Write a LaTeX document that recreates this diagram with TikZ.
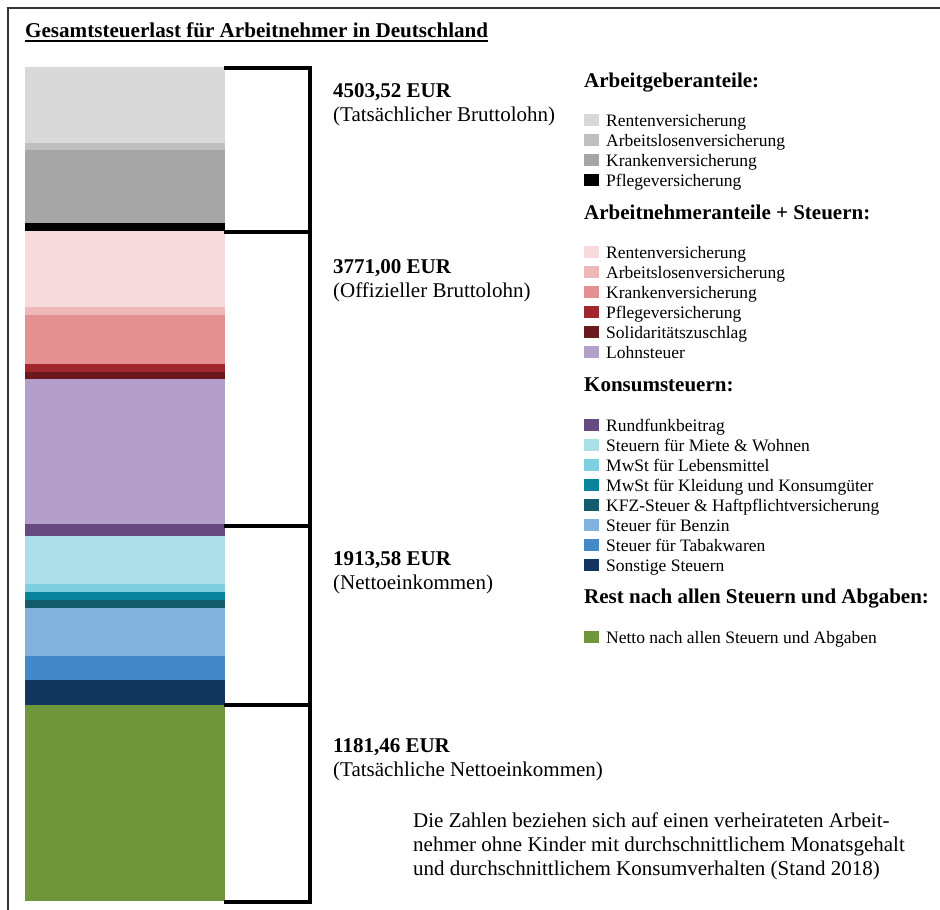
\documentclass[tikz,border=0pt]{standalone}
\usepackage{fontspec}
\setmainfont{Liberation Serif}
\usetikzlibrary{positioning}

% Arbeitgeberanteile
\definecolor{agRV}{HTML}{D9D9D9}
\definecolor{agAV}{HTML}{BFBFBF}
\definecolor{agKV}{HTML}{A6A6A6}
\definecolor{agPV}{HTML}{000000}
% Arbeitnehmeranteile + Steuern
\definecolor{anRV}{HTML}{F6DADC}
\definecolor{anAV}{HTML}{EFB8B8}
\definecolor{anKV}{HTML}{E49093}
\definecolor{anPV}{HTML}{A0282C}
\definecolor{anSoli}{HTML}{6A1A1F}
\definecolor{anLSt}{HTML}{B49ECA}
% Konsumsteuern
\definecolor{kRF}{HTML}{664A80}
\definecolor{kMiete}{HTML}{ADDFE8}
\definecolor{kLeb}{HTML}{7ECFE0}
\definecolor{kKleid}{HTML}{0A849C}
\definecolor{kKFZ}{HTML}{145C6C}
\definecolor{kBenzin}{HTML}{84B2DE}
\definecolor{kTabak}{HTML}{4389C8}
\definecolor{kSonst}{HTML}{12365E}
% Rest
\definecolor{rest}{HTML}{70963C}

\tikzset{
  big/.style={font=\fontsize{21}{22}\selectfont},
  lbl/.style={anchor=base west,inner sep=0pt,big},
  head/.style={anchor=base west,inner sep=0pt,font=\fontsize{21}{22}\selectfont\bfseries},
  keytext/.style={anchor=base west,inner sep=0pt,font=\fontsize{17.5}{20}\selectfont},
  bracket/.style={line width=4pt}
}

\begin{document}
\begin{tikzpicture}[x=1pt,y=-1pt]
  \useasboundingbox (0,0) rectangle (940,910);
  \draw[line width=1.6pt,black!80] (8,8) rectangle (960,930);

  \node[anchor=base west,inner sep=0pt,font=\fontsize{21.1}{22}\selectfont\bfseries] (title) at (25,37)
    {Gesamtsteuerlast für Arbeitnehmer in Deutschland};
  \draw[line width=1.8pt] ([yshift=-4pt]title.base west) -- ([yshift=-4pt]title.base east);

  % Saeule
  \fill[agRV] (25,67) rectangle (225,143);
  \fill[agAV] (25,143) rectangle (225,150);
  \fill[agKV] (25,150) rectangle (225,223);
  \fill[agPV] (25,223) rectangle (225,231);
  \fill[anRV] (25,231) rectangle (225,307);
  \fill[anAV] (25,307) rectangle (225,315);
  \fill[anKV] (25,315) rectangle (225,364);
  \fill[anPV] (25,364) rectangle (225,372);
  \fill[anSoli] (25,372) rectangle (225,379);
  \fill[anLSt] (25,379) rectangle (225,524);
  \fill[kRF] (25,524) rectangle (225,536);
  \fill[kMiete] (25,536) rectangle (225,584);
  \fill[kLeb] (25,584) rectangle (225,592);
  \fill[kKleid] (25,592) rectangle (225,600);
  \fill[kKFZ] (25,600) rectangle (225,608);
  \fill[kBenzin] (25,608) rectangle (225,656);
  \fill[kTabak] (25,656) rectangle (225,680);
  \fill[kSonst] (25,680) rectangle (225,705);
  \fill[rest] (25,705) rectangle (225,901);

  % Klammer
  \draw[bracket] (310,68) -- (310,902);
  \foreach \y in {68,232,526,705,902}
    \draw[bracket] (224,\y) -- (312,\y);

  % Betraege
  \node[lbl,font=\fontsize{21}{22}\selectfont\bfseries] (v1) at (333,97) {4503,52 EUR};
  \node[lbl] (t1) at (333,121) {(Tatsächlicher Bruttolohn)};
  \node[lbl,font=\fontsize{21}{22}\selectfont\bfseries] (v2) at (333,273) {3771,00 EUR};
  \node[lbl] (t2) at (333,297) {(Offizieller Bruttolohn)};
  \node[lbl,font=\fontsize{21}{22}\selectfont\bfseries] (v3) at (333,565) {1913,58 EUR};
  \node[lbl] (t3) at (333,589) {(Nettoeinkommen)};
  \node[lbl,font=\fontsize{21}{22}\selectfont\bfseries] (v4) at (333,752) {1181,46 EUR};
  \node[lbl] (t4) at (333,776) {(Tatsächliche Nettoeinkommen)};

  % Legende
  \node[head] (h1) at (584,87) {Arbeitgeberanteile:};
  \foreach \c/\t [count=\i] in {agRV/Rentenversicherung,agAV/Arbeitslosenversicherung,
      agKV/Krankenversicherung,agPV/Pflegeversicherung}{
    \fill[\c] (584,106+20*\i) rectangle (599,94+20*\i);
    \node[keytext] (ag\i) at (606,106+20*\i) {\t};
  }
  \node[head] (h2) at (584,219) {Arbeitnehmeranteile + Steuern:};
  \foreach \c/\t [count=\i] in {anRV/Rentenversicherung,anAV/Arbeitslosenversicherung,
      anKV/Krankenversicherung,anPV/Pflegeversicherung,anSoli/Solidaritätszuschlag,anLSt/Lohnsteuer}{
    \fill[\c] (584,238+20*\i) rectangle (599,226+20*\i);
    \node[keytext] (an\i) at (606,238+20*\i) {\t};
  }
  \node[head] (h3) at (584,391) {Konsumsteuern:};
  \foreach \c/\t [count=\i] in {kRF/Rundfunkbeitrag,kMiete/Steuern für Miete \& Wohnen,
      kLeb/MwSt für Lebensmittel,kKleid/MwSt für Kleidung und Konsumgüter,
      kKFZ/KFZ-Steuer \& Haftpflichtversicherung,kBenzin/Steuer für Benzin,
      kTabak/Steuer für Tabakwaren,kSonst/Sonstige Steuern}{
    \fill[\c] (584,411+20*\i) rectangle (599,399+20*\i);
    \node[keytext] (k\i) at (606,411+20*\i) {\t};
  }
  \node[head] (h4) at (584,603) {Rest nach allen Steuern und Abgaben:};
  \fill[rest] (584,643) rectangle (599,631);
  \node[keytext] (r1) at (606,643) {Netto nach allen Steuern und Abgaben};

  % Anmerkung
  \node[lbl] (n1) at (413,827) {Die Zahlen beziehen sich auf einen verheirateten Arbeit-};
  \node[lbl] (n2) at (413,851) {nehmer ohne Kinder mit durchschnittlichem Monatsgehalt};
  \node[lbl] (n3) at (413,875) {und durchschnittlichem Konsumverhalten (Stand 2018)};
\end{tikzpicture}
\end{document}
